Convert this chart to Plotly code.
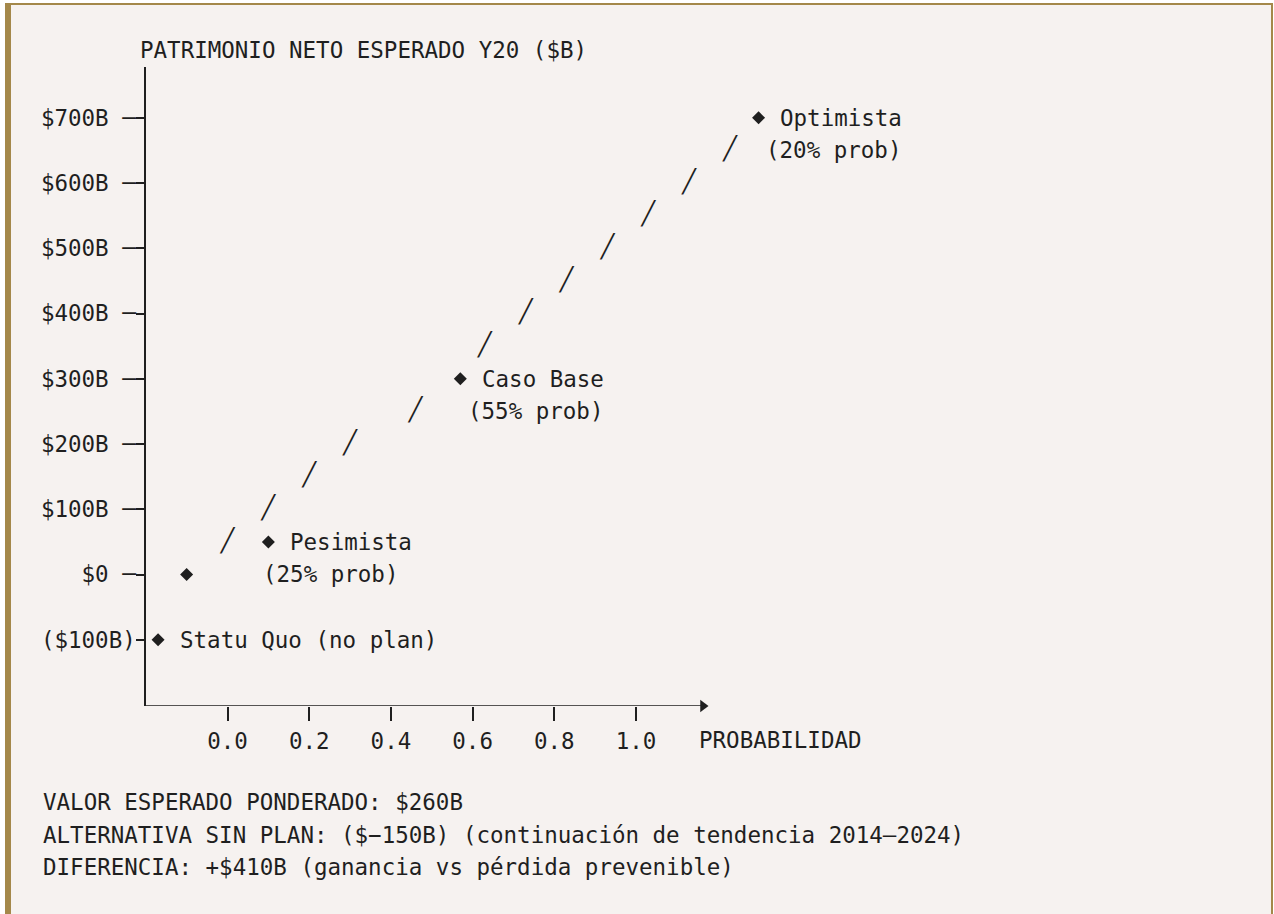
import plotly.graph_objects as go

# Scenario points (x = position on the probability axis, y = net worth in $B)
scenario_names = ["Optimista", "Caso Base", "Pesimista", "", "Statu Quo (no plan)"]
scenario_probs = ["(20% prob)", "(55% prob)", "(25% prob)", "", ""]
scenario_x = [1.30, 0.57, 0.10, -0.10, -0.17]
scenario_y = [700, 300, 50, 0, -100]

# Dashed "/" trail between the scenarios
path_x = [0.0, 0.10, 0.20, 0.30, 0.46, 0.63, 0.73, 0.83, 0.93, 1.03, 1.13, 1.23]
path_y = [50, 100, 150, 200, 250, 350, 400, 450, 500, 550, 600, 650]

y_ticks = [700, 600, 500, 400, 300, 200, 100, 0, -100]
y_tick_labels = ["$700B", "$600B", "$500B", "$400B", "$300B", "$200B", "$100B", "$0", "($100B)"]
x_ticks = [0.0, 0.2, 0.4, 0.6, 0.8, 1.0]
x_tick_labels = ["0.0", "0.2", "0.4", "0.6", "0.8", "1.0"]

y_title = "PATRIMONIO NETO ESPERADO Y20 ($B)"
x_title = "PROBABILIDAD"
summary_lines = [
    "VALOR ESPERADO PONDERADO: $260B",
    "ALTERNATIVA SIN PLAN: ($\u2212150B) (continuación de tendencia 2014\u20132024)",
    "DIFERENCIA: +$410B (ganancia vs pérdida prevenible)",
]

W, H = 1274, 914
MONO = "DejaVu Sans Mono"
INK = "#1f1f1f"
BG = "#f6f2f0"
GOLD = "#a4884a"
FS = 22.5
ROW = 32.6  # text row height in px

X_MIN, Y_MIN, Y_MAX = -0.1995, -201.5, 777.8
X_AXIS_END = 1.17  # where the drawn x axis arrow stops


def px_x(p):
    return p / W


def px_y(p):
    return 1 - p / H


fig = go.Figure()

# trail of slashes
fig.add_trace(
    go.Scatter(
        x=path_x,
        y=path_y,
        mode="text",
        text=["\u2571"] * len(path_x),
        textfont=dict(family=MONO, size=FS, color=INK),
        cliponaxis=False,
        hoverinfo="skip",
        showlegend=False,
    )
)

# scenario diamonds
fig.add_trace(
    go.Scatter(
        x=scenario_x,
        y=scenario_y,
        mode="markers",
        marker=dict(symbol="diamond", size=10, color=INK),
        cliponaxis=False,
        hoverinfo="skip",
        showlegend=False,
    )
)

# x axis with arrow head
fig.add_trace(
    go.Scatter(
        x=[X_MIN, X_AXIS_END],
        y=[Y_MIN, Y_MIN],
        mode="lines",
        line=dict(color=INK, width=1.5),
        cliponaxis=False,
        hoverinfo="skip",
        showlegend=False,
    )
)
fig.add_trace(
    go.Scatter(
        x=[X_AXIS_END - 0.006],
        y=[Y_MIN],
        mode="markers",
        marker=dict(symbol="triangle-right", size=11, color=INK),
        cliponaxis=False,
        hoverinfo="skip",
        showlegend=False,
    )
)

annotations = []
# prob label offset (px) from the diamond, per scenario
prob_shift = [6.8, 6.8, -6.8, 0, 0]
for i, name in enumerate(scenario_names):
    if name:
        annotations.append(
            dict(x=scenario_x[i], y=scenario_y[i], xref="x", yref="y", text=name,
                 showarrow=False, xanchor="left", yanchor="middle", xshift=19.5)
        )
    if scenario_probs[i]:
        annotations.append(
            dict(x=scenario_x[i], y=scenario_y[i], xref="x", yref="y", text=scenario_probs[i],
                 showarrow=False, xanchor="left", yanchor="middle",
                 xshift=prob_shift[i] - 1, yshift=-ROW)
        )

annotations.append(
    dict(x=px_x(138), y=px_y(50), xref="paper", yref="paper", text=y_title,
         showarrow=False, xanchor="left", yanchor="middle")
)
annotations.append(
    dict(x=px_x(697), y=px_y(740), xref="paper", yref="paper", text=x_title,
         showarrow=False, xanchor="left", yanchor="middle")
)
for k, line in enumerate(summary_lines):
    annotations.append(
        dict(x=px_x(41), y=px_y(802 + k * ROW), xref="paper", yref="paper", text=line,
             showarrow=False, xanchor="left", yanchor="middle")
    )

shapes = [
    dict(type="rect", xref="paper", yref="paper", x0=px_x(5), x1=px_x(1273), y0=px_y(3), y1=-0.1,
         fillcolor=BG, line_width=0, layer="below"),
    dict(type="rect", xref="paper", yref="paper", x0=px_x(5), x1=px_x(11), y0=px_y(3), y1=-0.1,
         fillcolor=GOLD, line_width=0, layer="below"),
    dict(type="rect", xref="paper", yref="paper", x0=px_x(5), x1=px_x(1273), y0=px_y(3), y1=px_y(5),
         fillcolor=GOLD, line_width=0, layer="below"),
    dict(type="rect", xref="paper", yref="paper", x0=px_x(1271), x1=px_x(1273), y0=px_y(3), y1=-0.1,
         fillcolor=GOLD, line_width=0, layer="below"),
]

PX_PER_UNIT = 408.5
fig.update_layout(
    width=W,
    height=H,
    margin=dict(l=0, r=0, t=0, b=0),
    paper_bgcolor="white",
    plot_bgcolor="rgba(0,0,0,0)",
    font=dict(family=MONO, size=FS, color=INK),
    showlegend=False,
    annotations=annotations,
    shapes=shapes,
    xaxis=dict(
        domain=[px_x(146), px_x(1250)],
        range=[X_MIN, X_MIN + (1250 - 146) / PX_PER_UNIT],
        tickvals=x_ticks,
        ticktext=x_tick_labels,
        ticks="outside",
        ticklen=14,
        tickwidth=1.5,
        tickcolor=INK,
        showline=False,
        showgrid=False,
        zeroline=False,
        fixedrange=True,
        ticklabelstandoff=1,
    ),
    yaxis=dict(
        domain=[1 - 706 / H, 1 - 67 / H],
        range=[Y_MIN, Y_MAX],
        tickvals=y_ticks,
        ticktext=[lab + "\u00a0\u2500" if v >= 0 else lab for v, lab in zip(y_ticks, y_tick_labels)],
        ticks="outside",
        ticklen=8,
        tickwidth=1.5,
        tickcolor=INK,
        showline=True,
        linecolor=INK,
        linewidth=1.5,
        showgrid=False,
        zeroline=False,
        fixedrange=True,
        ticklabelstandoff=-4,
    ),
)

fig.write_html("out.html", config={"displayModeBar": False},
               post_script="document.body.style.margin='0';")
